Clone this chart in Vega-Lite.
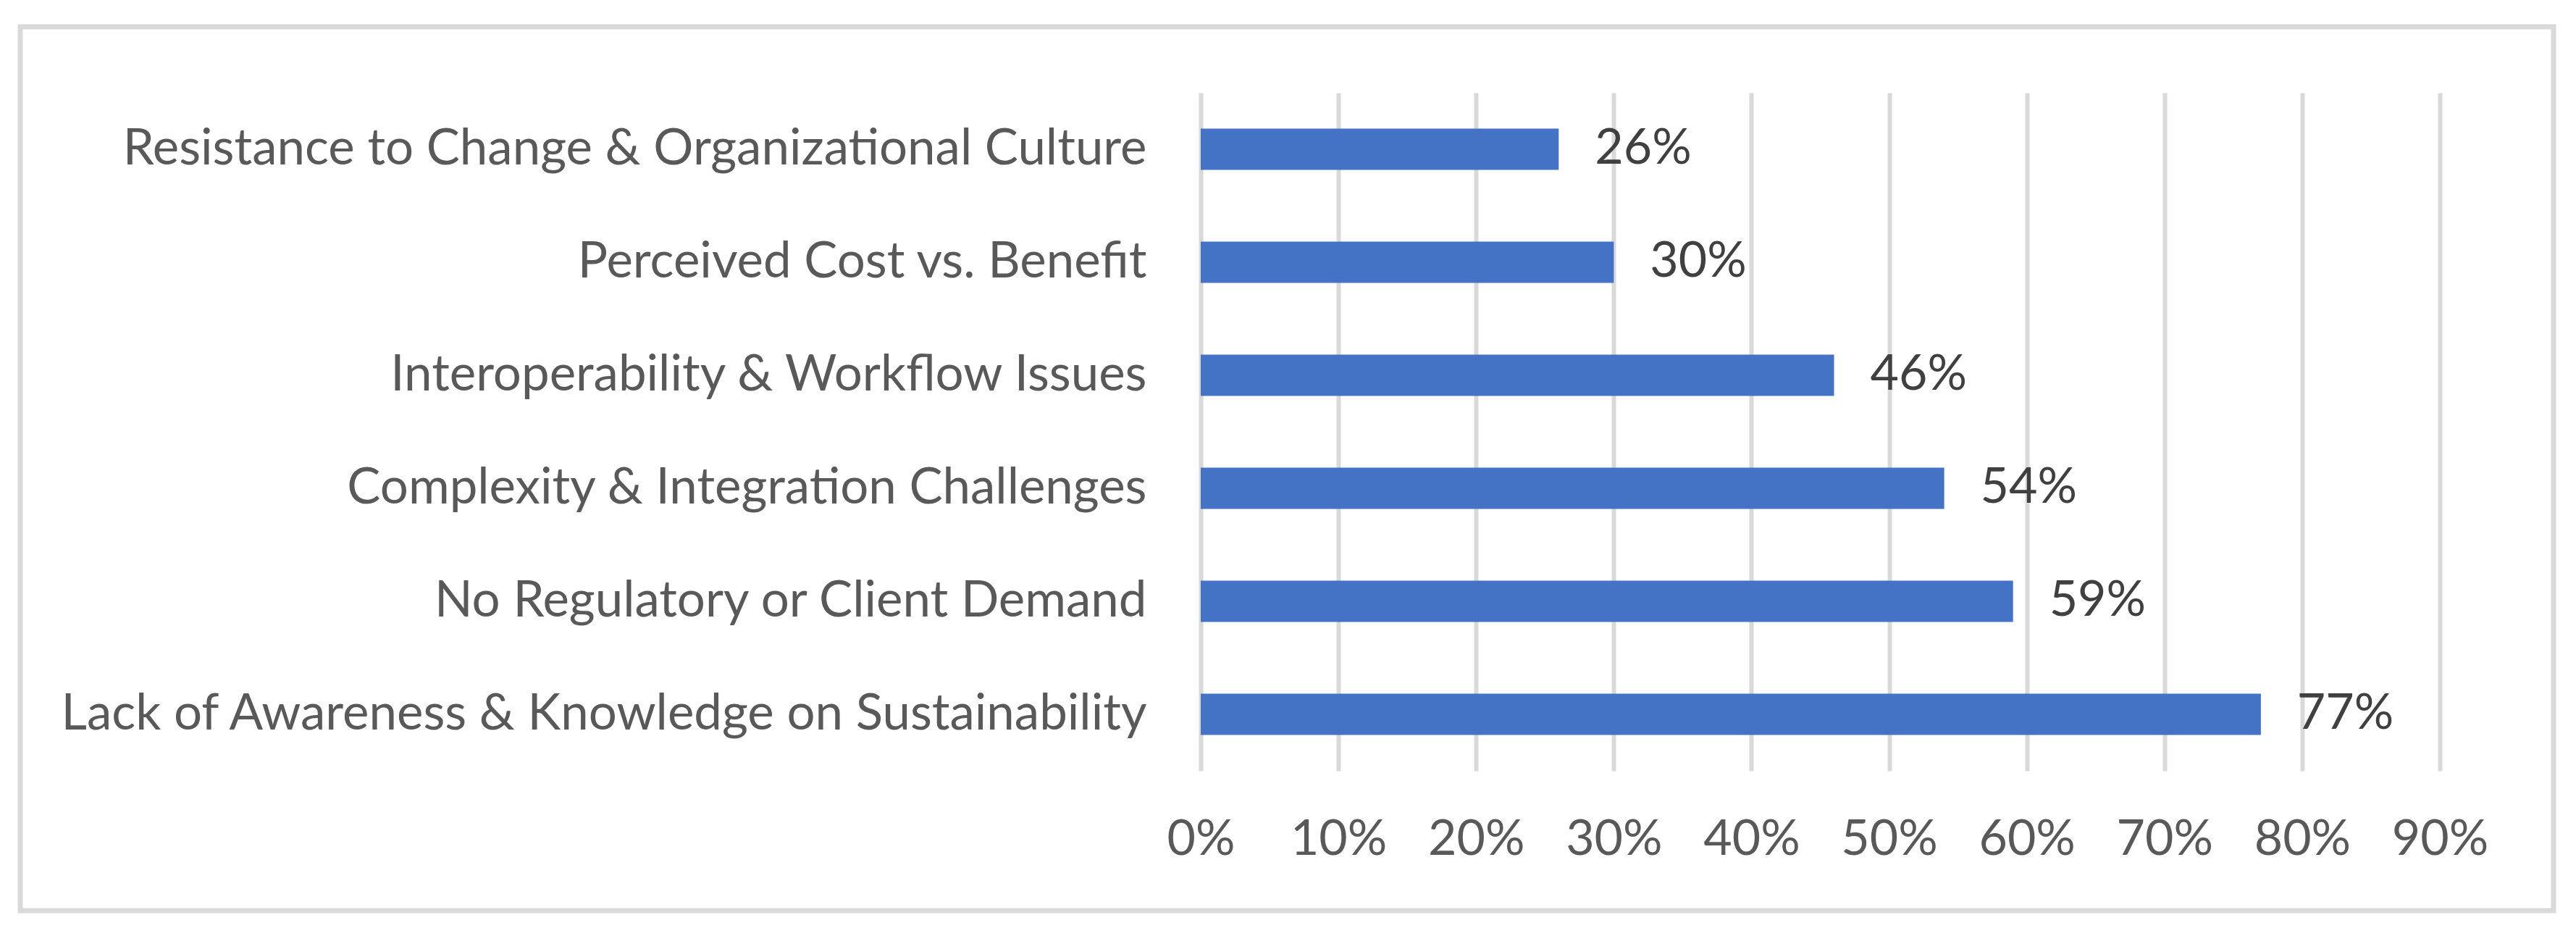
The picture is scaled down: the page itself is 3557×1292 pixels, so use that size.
{
  "$schema": "https://vega.github.io/schema/vega-lite/v6.json",
  "autosize": "none",
  "width": 3498,
  "height": 1220,
  "padding": {"left": 28, "top": 37, "right": 31, "bottom": 35},
  "background": "white",
  "config": {
    "view": {"stroke": "#d9d9d9", "strokeWidth": 7},
    "font": "Lato"
  },
  "data": {
    "values": [
      {"barrier": "Resistance to Change & Organizational Culture", "share": 0.26},
      {"barrier": "Perceived Cost vs. Benefit", "share": 0.30},
      {"barrier": "Interoperability & Workflow Issues", "share": 0.46},
      {"barrier": "Complexity & Integration Challenges", "share": 0.54},
      {"barrier": "No Regulatory or Client Demand", "share": 0.59},
      {"barrier": "Lack of Awareness & Knowledge on Sustainability", "share": 0.77}
    ]
  },
  "encoding": {
    "y": {
      "field": "barrier",
      "type": "nominal",
      "sort": null,
      "scale": {"range": [91, 1027], "paddingInner": 0.635, "paddingOuter": 0.3175},
      "axis": {
        "title": null,
        "offset": -1630,
        "domain": false,
        "ticks": false,
        "grid": false,
        "labelPadding": 75,
        "labelFontSize": 69,
        "labelColor": "#595959",
        "labelFont": "Lato",
        "labelLimit": 3000
      }
    },
    "x": {
      "field": "share",
      "type": "quantitative",
      "scale": {"domain": [0, 0.9], "range": [1630, 3341], "nice": false},
      "axis": {
        "orient": "top",
        "title": null,
        "values": [0, 0.1, 0.2, 0.3, 0.4, 0.5, 0.6, 0.7, 0.8, 0.9],
        "format": ".0%",
        "offset": -1122,
        "domain": false,
        "ticks": false,
        "tickSize": 0,
        "grid": true,
        "gridColor": "#d9d9d9",
        "gridWidth": 6,
        "labelPadding": 0,
        "labelBaseline": "middle",
        "labelFontSize": 68,
        "labelColor": "#595959",
        "labelFont": "Lato",
        "labelFlush": false
      }
    }
  },
  "layer": [
    {"mark": {"type": "bar", "color": "#4472c4"}},
    {
      "mark": {"type": "text", "align": "left", "baseline": "middle", "dx": 50, "fontSize": 68, "color": "#404040", "font": "Lato"},
      "encoding": {"text": {"field": "share", "type": "quantitative", "format": ".0%"}}
    }
  ]
}
